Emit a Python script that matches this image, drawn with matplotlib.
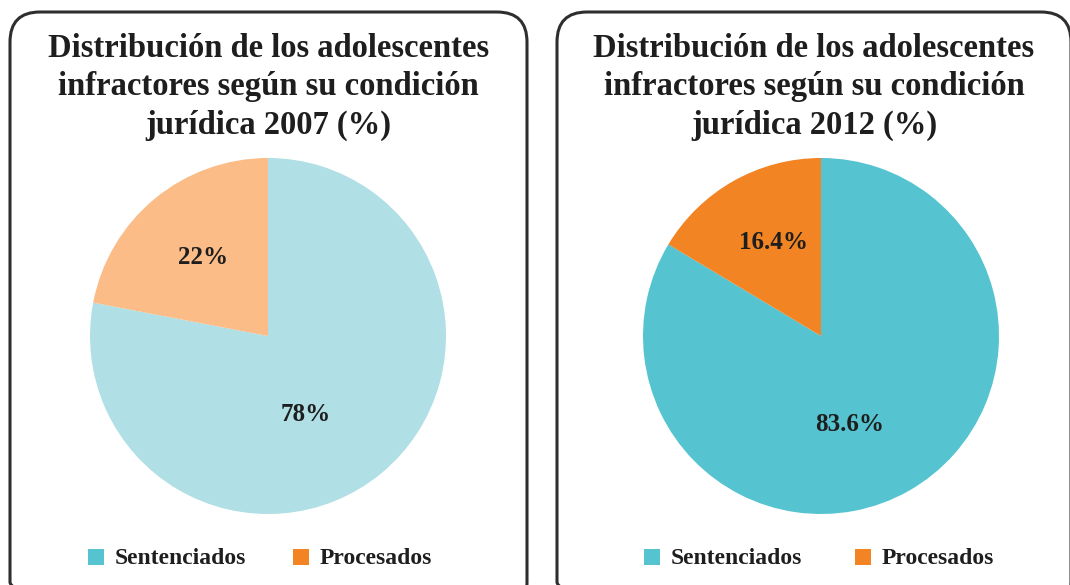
import matplotlib
matplotlib.use("Agg")
import matplotlib.pyplot as plt
from matplotlib.patches import FancyBboxPatch, Rectangle
import numpy as np

# Data
categories = ["Sentenciados", "Procesados"]
years = ["2007", "2012"]
values_2007 = [78, 22]
values_2012 = [83.6, 16.4]
labels_2007 = ["78%", "22%"]
labels_2012 = ["83.6%", "16.4%"]

W, H = 1070, 585
plt.rcParams["font.family"] = ["Liberation Serif", "DejaVu Serif"]
TEXT = "#1e1e1e"

fig = plt.figure(figsize=(W / 100, H / 100), dpi=100)
bg = fig.add_axes([0, 0, 1, 1])
bg.set_xlim(0, W)
bg.set_ylim(H, 0)
bg.axis("off")

panels = [
    dict(box_x=10, box_w=517, cx=268, values=values_2007, labels=labels_2007,
         colors=["#b0dfe5", "#fbbc87"], year=years[0],
         label_pos=[(-64, 0.49), (129.6, 0.57)], legend_x=[88, 293]),
    dict(box_x=557, box_w=514, cx=821, values=values_2012, labels=labels_2012,
         colors=["#55c4d0", "#f28423"], year=years[1],
         label_pos=[(-72, 0.52), (117, 0.59)], legend_x=[644, 855]),
]
legend_colors = ["#55c4d0", "#f28423"]

R = 178
CY = 336
for p in panels:
    # rounded frame
    box = FancyBboxPatch((p["box_x"], 12), p["box_w"], 600,
                         boxstyle="round,pad=0,rounding_size=30",
                         fill=False, edgecolor="#2e2e2e", linewidth=2.2,
                         clip_on=False)
    bg.add_patch(box)
    bx_c = p["box_x"] + p["box_w"] / 2
    title = ("Distribución de los adolescentes\ninfractores según su condición\n"
             f"jurídica {p['year']} (%)")
    bg.text(bx_c, 87, title, ha="center", va="center", fontsize=23.5,
            fontweight="bold", color=TEXT, linespacing=1.3)

    # pie
    ax = fig.add_axes([(p["cx"] - R) / W, (H - CY - R) / H, 2 * R / W, 2 * R / H])
    ax.pie(p["values"], colors=p["colors"], startangle=90, counterclock=False,
           radius=1, wedgeprops=dict(linewidth=0))
    ax.set_xlim(-1, 1)
    ax.set_ylim(-1, 1)
    ax.set_aspect("equal")
    ax.axis("off")
    for lab, (ang, r) in zip(p["labels"], p["label_pos"]):
        t = np.deg2rad(ang)
        ax.text(r * np.cos(t), r * np.sin(t), lab, ha="center", va="center",
                fontsize=18, fontweight="bold", color=TEXT)

    # legend
    for lx, col, name in zip(p["legend_x"], legend_colors, categories):
        bg.add_patch(Rectangle((lx, 549), 16, 16, facecolor=col, edgecolor="none"))
        bg.text(lx + 27, 559, name, ha="left", va="center", fontsize=17,
                fontweight="bold", color=TEXT)

fig.savefig("out.png", dpi=100)
